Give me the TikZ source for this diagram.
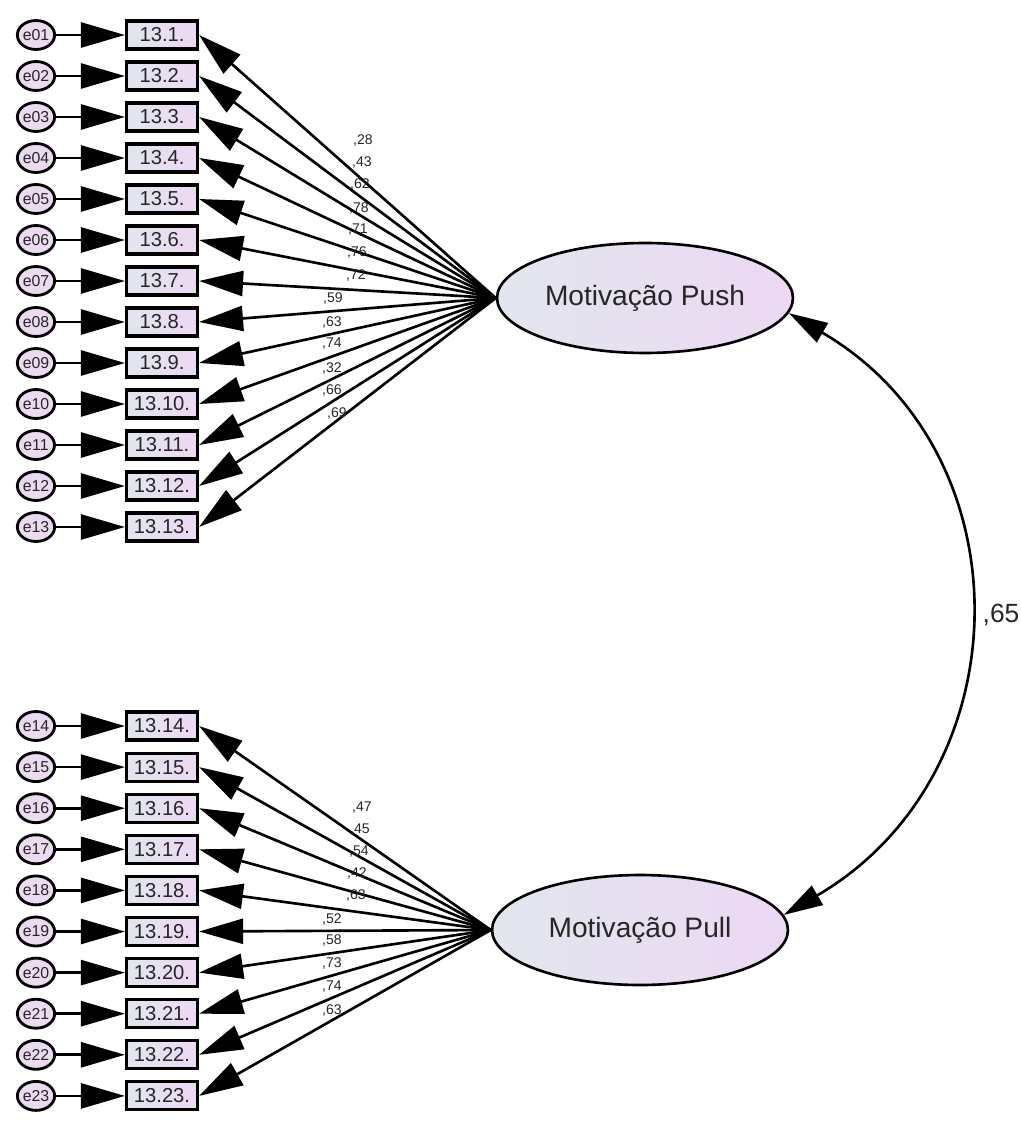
\documentclass[tikz,border=0pt]{standalone}
\usepackage{fontspec}
\setmainfont{Liberation Sans}
\usetikzlibrary{shapes.geometric,arrows.meta}
\definecolor{bluegrey}{HTML}{E2E6EE}
\definecolor{lilac}{HTML}{EDD8F3}
\definecolor{errfill}{HTML}{EBDAF0}
\tikzset{
  latent/.style={ellipse, draw, line width=1.5pt, left color=bluegrey, right color=lilac,
    minimum width=5.92cm, minimum height=2.2cm, inner sep=0pt,
    font=\fontsize{16}{18}\selectfont, text=black!85},
  obs/.style={rectangle, draw, line width=1.8pt, left color=bluegrey, right color=lilac,
    minimum width=1.42cm, minimum height=0.56cm, inner sep=0pt,
    font=\fontsize{11.5}{12}\selectfont, text=black!85},
  err/.style={ellipse, draw, line width=1.6pt, fill=errfill,
    minimum width=0.74cm, minimum height=0.58cm, inner sep=0pt,
    font=\fontsize{9}{10}\selectfont, text=black!85},
  big/.style={arrows={-Triangle[length=0.88cm,width=0.5cm]}, line width=1.5pt},
  cov/.style={arrows={Triangle[length=0.78cm,width=0.44cm]-Triangle[length=0.78cm,width=0.44cm]}, line width=1.5pt},
  coef/.style={font=\fontsize{8}{9}\selectfont, inner sep=0pt, text=black!85},
}
\begin{document}
\begin{tikzpicture}[x=0.02cm, y=-0.02cm]
  \useasboundingbox (0,0) rectangle (1020,1124);
  \node[latent] (push) at (645,298) {Motivação Push};
  \node[latent] (pull) at (640,930) {Motivação Pull};

  % push items
  \foreach \n/\w/\lx/\ly [count=\k] in {01/28/363/140, 02/43/362/162, 03/62/360/184,
      04/78/359/208, 05/71/358/230, 06/76/357/252, 07/72/356/275, 08/59/333/298,
      09/63/332/322, 10/74/332/344, 11/32/332/368, 12/66/332/390, 13/69/337/413} {
    \pgfmathsetmacro\y{35+41*(\k-1)}
    \node[err] (e\n) at (36,\y) {e\n};
    \node[obs] (v\n) at (162,\y) {13.\k.};
    \draw[big] (e\n) -- (v\n);
    \draw[big] (push.west) -- (v\n.east);
    \node[coef] (c\n) at (\lx,\ly) {,\w};
  }

  % pull items
  \foreach \n/\w/\lx/\ly [count=\k from 14] in {14/47/362/808, 15/45/360/830,
      16/54/359/852, 17/42/357/873, 18/63/356/895, 19/52/332/919, 20/58/332/940,
      21/73/332/963, 22/74/332/987, 23/63/332/1010} {
    \pgfmathsetmacro\y{726+41.1*(\k-14)}
    \node[err] (e\n) at (36,\y) {e\n};
    \node[obs] (v\n) at (162,\y) {13.\k.};
    \draw[big] (e\n) -- (v\n);
    \draw[big] (pull.west) -- (v\n.east);
    \node[coef] (c\n) at (\lx,\ly) {,\w};
  }

  % correlation
  \draw[cov] (push.-6) .. controls +(240,140) and +(240,-140) .. (pull.6);
  \node[font=\fontsize{15}{16}\selectfont, text=black!85] (r) at (1001,615) {,65};
\end{tikzpicture}
\end{document}
